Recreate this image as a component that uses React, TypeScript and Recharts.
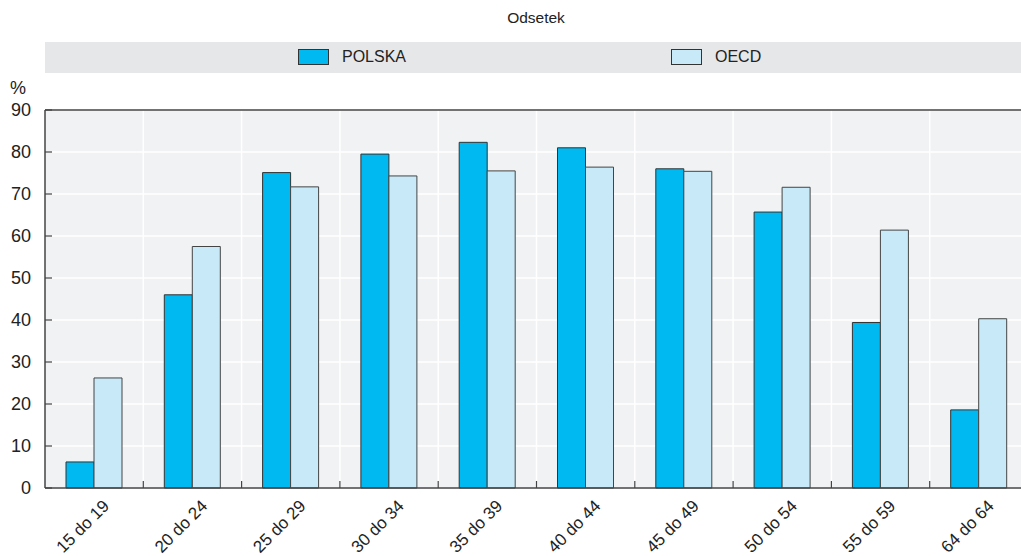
import React from 'react';
import { BarChart, Bar, XAxis, YAxis, CartesianGrid, ReferenceLine } from 'recharts';

// ── Data ──────────────────────────────────────────────────────────────────────

const categories = [
  '15 do 19', '20 do 24', '25 do 29', '30 do 34', '35 do 39',
  '40 do 44', '45 do 49', '50 do 54', '55 do 59', '64 do 64',
];
const polska = [6.2, 46, 75.1, 79.5, 82.3, 81.0, 76.0, 65.7, 39.4, 18.6];
const oecd = [26.2, 57.5, 71.7, 74.3, 75.5, 76.4, 75.4, 71.6, 61.4, 40.3];
const yTicks = [0, 10, 20, 30, 40, 50, 60, 70, 80, 90];

const data = categories.map((name, i) => ({ name, polska: polska[i], oecd: oecd[i] }));

// ── Style ─────────────────────────────────────────────────────────────────────

const PL_COLOR = '#00b9f0';
const OECD_COLOR = '#c8e9f8';
const AXIS = '#444';
const FONT = '"Liberation Sans", Arial, sans-serif';
const CHART_W = 1030;
const PLOT_W = 983;
const HALF_BAND = PLOT_W / categories.length / 2;

function YTick({ x, y, payload }: any) {
  return (
    <g>
      <line x1={x + 14} x2={x + 21} y1={y} y2={y} stroke={AXIS} strokeWidth={1.2} />
      <text x={x} y={y} textAnchor="end" dominantBaseline="central" fontSize={18} fill="#222" fontFamily={FONT}>
        {payload.value}
      </text>
    </g>
  );
}

function XTick({ x, y, payload, index }: any) {
  return (
    <g>
      {index < categories.length - 1 && (
        <line x1={x + HALF_BAND} x2={x + HALF_BAND} y1={y} y2={y - 7} stroke={AXIS} strokeWidth={1.2} />
      )}
      <text
        transform={`translate(${x + 16},${y + 19}) rotate(-45)`}
        textAnchor="end"
        fontSize={17}
        fill="#222"
        fontFamily={FONT}
      >
        {payload.value}
      </text>
    </g>
  );
}

function Swatch({ left, color, label }: { left: number; color: string; label: string }) {
  return (
    <>
      <div style={{ position: 'absolute', left, top: 49, width: 29, height: 14, background: color, border: '1px solid #333' }} />
      <div style={{ position: 'absolute', left: left + 44, top: 47, fontSize: 16, color: '#222', lineHeight: '19px' }}>{label}</div>
    </>
  );
}

export default function App() {
  return (
    <div style={{ position: 'absolute', left: 0, top: 0, width: 1021, height: 556, overflow: 'hidden', background: '#fff', fontFamily: FONT }}>
      <div style={{ position: 'absolute', left: 536, top: 9, transform: 'translateX(-50%)', fontSize: 15.5, color: '#222' }}>Odsetek</div>
      <div style={{ position: 'absolute', left: 45, top: 42, width: 976, height: 31, background: '#e6e7e9' }} />
      <Swatch left={298} color={PL_COLOR} label="POLSKA" />
      <Swatch left={671} color={OECD_COLOR} label="OECD" />
      <div style={{ position: 'absolute', left: 10, top: 78, fontSize: 18, color: '#222', lineHeight: '20px' }}>%</div>
      <div style={{ position: 'absolute', left: 0, top: 0 }}>
        <BarChart
          width={CHART_W}
          height={556}
          data={data}
          margin={{ top: 110, right: 2, bottom: 8, left: 0 }}
          barSize={28}
          barGap={0}
        >
          <CartesianGrid
            fill="#f1f2f4"
            fillOpacity={1}
            stroke="#ffffff"
            strokeWidth={1.5}
            verticalCoordinatesGenerator={({ offset }: any) =>
              categories.slice(1).map((_, i) => offset.left + (offset.width * (i + 1)) / categories.length)
            }
          />
          <XAxis
            dataKey="name"
            height={60}
            tickSize={0}
            tickMargin={0}
            tickLine={false}
            axisLine={{ stroke: AXIS, strokeWidth: 1.5 }}
            tick={<XTick />}
            interval={0}
          />
          <YAxis
            width={45}
            domain={[0, 90]}
            ticks={yTicks}
            tickSize={0}
            tickMargin={14}
            tickLine={false}
            axisLine={{ stroke: AXIS, strokeWidth: 1.5 }}
            tick={<YTick />}
          />
          <ReferenceLine y={90} stroke={AXIS} strokeWidth={1.5} />
          <Bar dataKey="polska" name="POLSKA" fill={PL_COLOR} stroke="#333" strokeWidth={1} isAnimationActive={false} />
          <Bar dataKey="oecd" name="OECD" fill={OECD_COLOR} stroke="#444" strokeWidth={1} isAnimationActive={false} />
        </BarChart>
      </div>
    </div>
  );
}
